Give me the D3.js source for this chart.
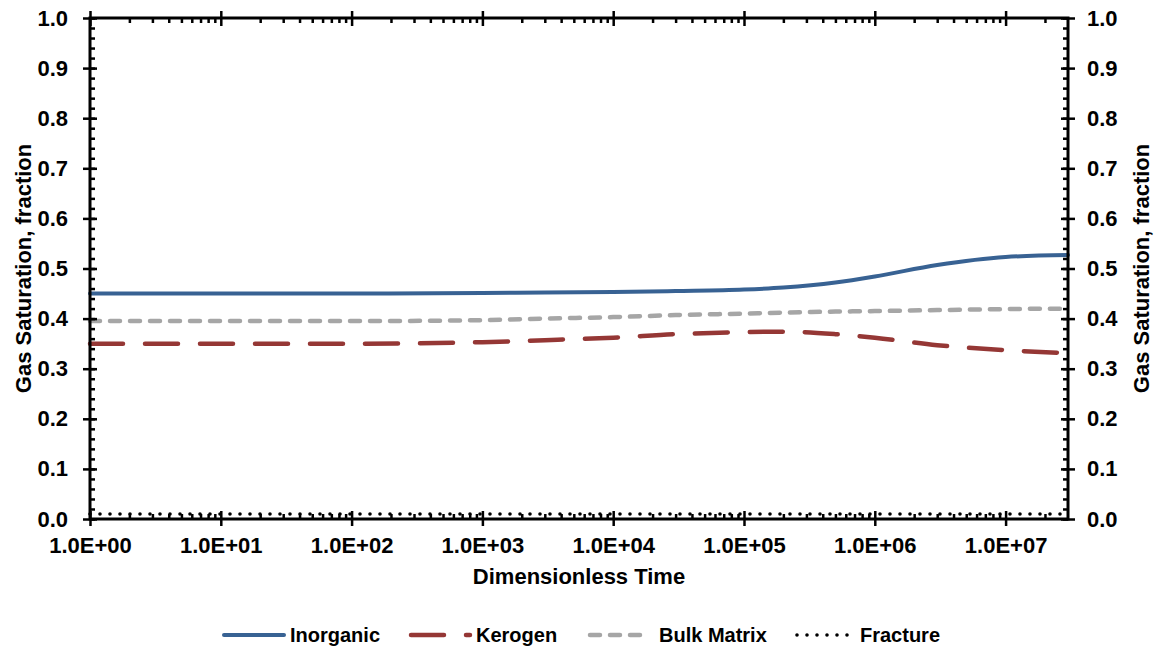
<!DOCTYPE html>
<html>
<head>
<meta charset="utf-8">
<script src="https://cdn.jsdelivr.net/npm/d3@7"></script>
<style>
	body { margin : 0; background : #fff; }
	svg text { font-family : 'Liberation Sans', Arial, sans-serif; font-weight : bold; fill : #000; }
</style>
</head>
<body>
<div id="chart"></div>
<script>
// dimensionless time samples shared by every series
const timeValues = [1, 10, 100, 1e3, 3e3, 1e4, 3e4, 1e5, 2e5, 5e5, 1e6, 3e6, 1e7, 3e7];

const inorganicValues  = [0.450, 0.450, 0.450, 0.451, 0.452, 0.453, 0.455, 0.458, 0.462, 0.472, 0.484, 0.507, 0.523, 0.527];
const kerogenValues    = [0.350, 0.350, 0.350, 0.353, 0.357, 0.362, 0.369, 0.373, 0.374, 0.369, 0.362, 0.347, 0.337, 0.331];
const bulkMatrixValues = [0.395, 0.395, 0.395, 0.397, 0.400, 0.403, 0.407, 0.410, 0.412, 0.414, 0.415, 0.417, 0.419, 0.420];
const fractureValues   = [0.010, 0.010, 0.010, 0.010, 0.010, 0.010, 0.010, 0.010, 0.010, 0.010, 0.010, 0.010, 0.010, 0.010];

const seriesNames = ['Inorganic', 'Kerogen', 'Bulk Matrix', 'Fracture'];

const xTickValues = [1, 10, 100, 1e3, 1e4, 1e5, 1e6, 1e7];
const xTickLabels = ['1.0E+00', '1.0E+01', '1.0E+02', '1.0E+03', '1.0E+04', '1.0E+05', '1.0E+06', '1.0E+07'];
const yTickValues = [0, 0.1, 0.2, 0.3, 0.4, 0.5, 0.6, 0.7, 0.8, 0.9, 1.0];

const width  = 1155;
const height = 650;

const plotLeft   = 90;
const plotRight  = 1068;
const plotTop    = 18;
const plotBottom = 519;

var x = d3.scaleLog()
          .domain( [1, 3e7] )
          .range( [plotLeft, plotRight] );

var y = d3.scaleLinear()
          .domain( [0, 1] )
          .range( [plotBottom, plotTop] );

// minor ticks: 2..9 in each decade, 0.02 on the value axis
var xMinor = [];
for ( let d = 0; d < 8; d += 1 ) {
	for ( let k = 2; k < 10; k += 1 ) {
		let v = k * Math.pow( 10, d );
		if ( v < 3e7 ) xMinor.push( v );
	}
}
var yMinor = d3.range( 0, 51 ).map( i => i * 0.02 );

var styles = [
	{ color : '#386293', width : 4,   dash : null,    cap : 'round' },
	{ color : '#953735', width : 4.5, dash : '33 22', cap : 'round' },
	{ color : '#a6a6a6', width : 4.5, dash : '10 10', cap : 'round' },
	{ color : '#000000', width : 3.6, dash : '0 10',  cap : 'round' }
];

var seriesValues = [inorganicValues, kerogenValues, bulkMatrixValues, fractureValues];

var svg = d3.select( '#chart' )
            .append( 'svg' )
            .attr( 'width', width )
            .attr( 'height', height );

var line = d3.line()
             .x( d => x( d.t ) )
             .y( d => y( d.v ) )
             .curve( d3.curveMonotoneX );

var lines = svg.append( 'g' );

seriesValues.forEach( ( vals, i ) => {
	let pts = timeValues.map( ( t, j ) => ( { t : t, v : vals[j] } ) );
	lines.append( 'path' )
	     .attr( 'd', line( pts ) )
	     .attr( 'fill', 'none' )
	     .attr( 'stroke', styles[i].color )
	     .attr( 'stroke-width', styles[i].width )
	     .attr( 'stroke-linecap', styles[i].cap )
	     .attr( 'stroke-dasharray', styles[i].dash );
} );

// axes: majors cross the frame, minors point inwards
const styleAxis = ( g, labels ) => {
	g.select( '.domain' ).remove();
	g.selectAll( 'line' ).attr( 'stroke', '#000' ).attr( 'stroke-width', 2.5 );
	g.selectAll( 'text' ).style( 'font-size', labels ? '22px' : '0px' );
};

const noText = () => '';

// bottom
svg.append( 'g' )
   .attr( 'transform', `translate(0,${plotBottom})` )
   .call( d3.axisBottom( x ).tickValues( xTickValues ).tickSize( 7 ).tickPadding( 11 )
            .tickFormat( ( d, i ) => xTickLabels[i] ) )
   .call( g => styleAxis( g, true ) );
svg.append( 'g' )
   .attr( 'transform', `translate(0,${plotBottom})` )
   .call( d3.axisTop( x ).tickValues( xTickValues ).tickSize( 8 ).tickFormat( noText ) )
   .call( g => styleAxis( g, false ) );
svg.append( 'g' )
   .attr( 'transform', `translate(0,${plotBottom})` )
   .call( d3.axisTop( x ).tickValues( xMinor ).tickSize( 5 ).tickFormat( noText ) )
   .call( g => styleAxis( g, false ) );

// top
svg.append( 'g' )
   .attr( 'transform', `translate(0,${plotTop})` )
   .call( d3.axisTop( x ).tickValues( xTickValues ).tickSize( 7 ).tickFormat( noText ) )
   .call( g => styleAxis( g, false ) );
svg.append( 'g' )
   .attr( 'transform', `translate(0,${plotTop})` )
   .call( d3.axisBottom( x ).tickValues( xTickValues ).tickSize( 8 ).tickFormat( noText ) )
   .call( g => styleAxis( g, false ) );
svg.append( 'g' )
   .attr( 'transform', `translate(0,${plotTop})` )
   .call( d3.axisBottom( x ).tickValues( xMinor ).tickSize( 5 ).tickFormat( noText ) )
   .call( g => styleAxis( g, false ) );

// left
svg.append( 'g' )
   .attr( 'transform', `translate(${plotLeft},0)` )
   .call( d3.axisLeft( y ).tickValues( yTickValues ).tickSize( 7 ).tickPadding( 15 )
            .tickFormat( d3.format( '.1f' ) ) )
   .call( g => styleAxis( g, true ) );
svg.append( 'g' )
   .attr( 'transform', `translate(${plotLeft},0)` )
   .call( d3.axisRight( y ).tickValues( yTickValues ).tickSize( 7 ).tickFormat( noText ) )
   .call( g => styleAxis( g, false ) );
svg.append( 'g' )
   .attr( 'transform', `translate(${plotLeft},0)` )
   .call( d3.axisRight( y ).tickValues( yMinor ).tickSize( 5 ).tickFormat( noText ) )
   .call( g => styleAxis( g, false ) );

// right
svg.append( 'g' )
   .attr( 'transform', `translate(${plotRight},0)` )
   .call( d3.axisRight( y ).tickValues( yTickValues ).tickSize( 7 ).tickPadding( 12 )
            .tickFormat( d3.format( '.1f' ) ) )
   .call( g => styleAxis( g, true ) );
svg.append( 'g' )
   .attr( 'transform', `translate(${plotRight},0)` )
   .call( d3.axisLeft( y ).tickValues( yTickValues ).tickSize( 7 ).tickFormat( noText ) )
   .call( g => styleAxis( g, false ) );
svg.append( 'g' )
   .attr( 'transform', `translate(${plotRight},0)` )
   .call( d3.axisLeft( y ).tickValues( yMinor ).tickSize( 5 ).tickFormat( noText ) )
   .call( g => styleAxis( g, false ) );

// plot frame
svg.append( 'rect' )
   .attr( 'x', plotLeft )
   .attr( 'y', plotTop )
   .attr( 'width', plotRight - plotLeft )
   .attr( 'height', plotBottom - plotTop )
   .attr( 'fill', 'none' )
   .attr( 'stroke', '#000' )
   .attr( 'stroke-width', 3 );

// axis titles
svg.append( 'text' )
   .attr( 'x', ( plotLeft + plotRight ) / 2 )
   .attr( 'y', 584 )
   .attr( 'text-anchor', 'middle' )
   .style( 'font-size', '22px' )
   .text( 'Dimensionless Time' );

svg.append( 'text' )
   .attr( 'transform', `translate(31,${( plotTop + plotBottom ) / 2}) rotate(-90)` )
   .attr( 'text-anchor', 'middle' )
   .style( 'font-size', '22px' )
   .text( 'Gas Saturation, fraction' );

svg.append( 'text' )
   .attr( 'transform', `translate(1149,${( plotTop + plotBottom ) / 2}) rotate(-90)` )
   .attr( 'text-anchor', 'middle' )
   .style( 'font-size', '22px' )
   .text( 'Gas Saturation, fraction' );

// legend
var legendX = [[224, 284, 290], [411, 470, 476], [590, 650, 659], [797, 850, 860]];

var legend = svg.append( 'g' );

seriesNames.forEach( ( name, i ) => {
	legend.append( 'line' )
	      .attr( 'x1', legendX[i][0] )
	      .attr( 'x2', legendX[i][1] )
	      .attr( 'y1', 635 )
	      .attr( 'y2', 635 )
	      .attr( 'stroke', styles[i].color )
	      .attr( 'stroke-width', styles[i].width )
	      .attr( 'stroke-linecap', styles[i].cap )
	      .attr( 'stroke-dasharray', styles[i].dash );
	legend.append( 'text' )
	      .attr( 'x', legendX[i][2] )
	      .attr( 'y', 642 )
	      .style( 'font-size', '20px' )
	      .text( name );
} );
</script>
</body>
</html>
